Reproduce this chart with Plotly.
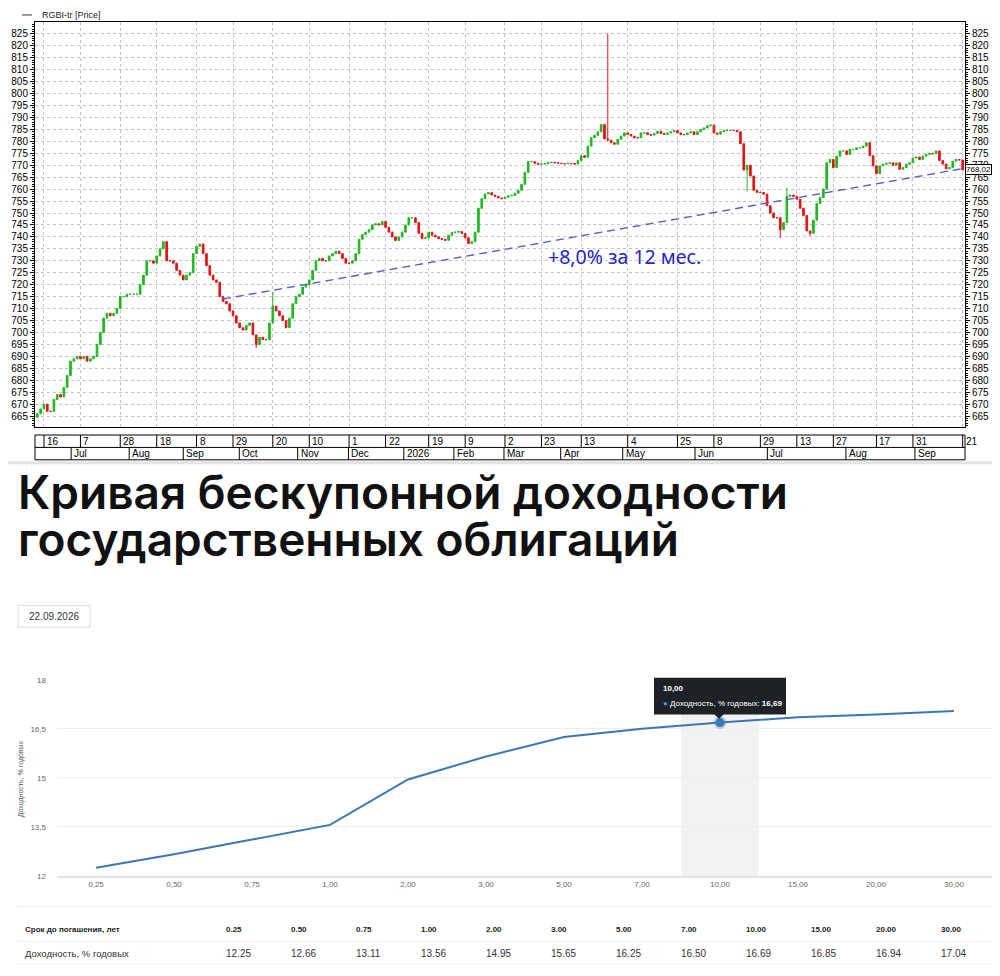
import plotly.graph_objects as go

# ---------------- DATA: RGBI-tr daily candles (close prices) ----------------
closes_a = [666, 668, 670, 667, 667, 672, 674, 673, 677, 682,
            688, 689, 690, 689, 690, 688, 689, 690, 695, 700,
            706, 708, 707, 708, 710, 715, 715, 716, 716, 716,
            716, 720, 724, 730, 730, 729, 732, 735, 738, 730,
            730, 729, 726, 724, 722, 724, 725, 733, 736, 737,
            733, 728, 724, 722, 721, 715, 713, 712, 709, 707,
            704, 702, 701, 703, 704, 699, 695, 698, 697, 697,
            704, 711, 709, 707, 705, 702, 706, 712, 715, 716,
            719, 720, 722, 726, 730, 731, 730, 730, 732, 733,
            734, 733, 731, 729]
closes_b = [729, 730, 733, 739, 741, 742, 743, 745, 745.5, 745,
            746.5, 744, 742, 740, 738.5, 740, 742, 745, 748, 748,
            746, 741.5, 739.3, 739.6, 742, 740.7, 740, 739.3, 739, 738.6,
            740.7, 741.8, 742, 742.3, 741.4, 739.6, 737.2, 738, 742, 752,
            756, 758, 758.5, 757.5, 757, 756.3, 756, 756.6, 757.2, 757.4,
            758.3, 759.5, 762, 767, 771.5, 771.5, 770.8, 770.4, 770.5, 770.7,
            771.2, 771.2, 771, 770.8, 770.7, 770.6, 770.8, 770.7, 770.5, 772,
            774, 773.3, 778, 781.5, 782.5, 784, 787, 781, 780.5, 779.4,
            778.8, 780.8, 782.2, 783.5, 782.9, 782.2, 781.5, 781.5, 783.5, 783.6,
            782.9, 782.6, 783.3, 784.2, 783.3, 782.9, 783.5]
closes_c = [784, 784.5, 783.5, 782.8, 782.8, 783.5, 784, 782.8, 784, 785,
            785.6, 786.5, 786.8, 783.5, 783, 784, 784.6, 784.6, 784.6, 784.5,
            784, 779, 768, 770, 765.5, 759.5, 758.6, 758.6, 757.9, 753,
            750, 748, 748, 743, 746, 757, 757.5, 757, 755.8, 752,
            749, 742.5, 741.5, 747, 754, 756.5, 760, 771, 772.4, 769,
            773.8, 776, 776, 774.5, 776.6, 776.6, 777.3, 777.3, 778, 779.4,
            774, 769.7, 766.5, 769.7, 770.4, 770.8, 771, 770, 771, 768.3,
            769, 770.4, 771, 773, 773.4, 772.4, 773.8, 774.5, 775, 774.8,
            776, 772, 770.5, 768.5, 769, 771.7, 772.4, 772.2, 768.02]
first_open = 664.5
high_overrides = {172: 825.0, 71: 717.0, 226: 760.6}
low_overrides = {66: 693.5, 214: 759.0, 224: 739.6, 233: 740.3}

# date labels of the bar axis (bar index where a label cell starts)
day_tick_idx = [2, 13, 25, 36, 48, 59, 71, 82, 94, 105, 118, 129, 141, 152,
                164, 178, 193, 204, 218, 229, 240, 253, 264, 279]
day_tick_txt = ["16", "7", "28", "18", "8", "29", "20", "10", "1", "22", "19", "9",
                "2", "23", "13", "4", "25", "8", "29", "13", "27", "17", "31", "21"]
month_idx = [10.2, 27.7, 44.0, 60.9, 78.5, 93.8, 110.5, 125.6, 140.7, 157.8,
             176.5, 198.3, 220.1, 243.8, 264.6]
month_txt = ["Jul", "Aug", "Sep", "Oct", "Nov", "Dec", "2026", "Feb", "Mar", "Apr",
             "May", "Jun", "Jul", "Aug", "Sep"]

trend_idx = [56, 279]
trend_val = [714.0, 768.6]
trend_label = "+8,0% за 12 мес."
last_price = 768.02

# ---------------- DATA: zero-coupon yield curve ----------------
maturities = [0.25, 0.5, 0.75, 1, 2, 3, 5, 7, 10, 15, 20, 30]
yields = [12.25, 12.66, 13.11, 13.56, 14.95, 15.65, 16.25, 16.50, 16.69, 16.85, 16.94, 17.04]
y3_ticks = [12, 13.5, 15, 16.5, 18]
hover_i = 8
curve_date = "22.09.2026"

# ---------------- build ----------------
closes = closes_a + closes_b + closes_c
N = len(closes)
idx = list(range(N))
opens = [first_open] + closes[:-1]
highs = [max(o, c) for o, c in zip(opens, closes)]
lows = [min(o, c) for o, c in zip(opens, closes)]
for k, v in high_overrides.items():
    highs[k] = v
for k, v in low_overrides.items():
    lows[k] = v

# page has an 8px body margin: figure occupies screen x 8..1000, y 8..976
OFF = 8
W, H = 1000 - OFF, 976 - OFF
def px(x):
    return (x - OFF) / W
def py(y):
    return 1 - (y - OFF) / H

SANS = "Liberation Sans, Arial"

fig = go.Figure()
fig.add_trace(go.Candlestick(
    x=idx, open=opens, high=highs, low=lows, close=closes,
    increasing=dict(line=dict(color="#1fb81f", width=1), fillcolor="#1fb81f"),
    decreasing=dict(line=dict(color="#e31414", width=1), fillcolor="#e31414"),
    whiskerwidth=0, showlegend=False, hoverinfo="skip",
    xaxis="x", yaxis="y"))
fig.add_trace(go.Scatter(
    x=trend_idx, y=trend_val, mode="lines",
    line=dict(color="#5b5bd6", width=1.4, dash="8px,5px"),
    showlegend=False, hoverinfo="skip", xaxis="x", yaxis="y"))
# invisible helper so the right price axis is drawn
fig.add_trace(go.Scatter(x=[idx[-1]], y=[closes[-1]], mode="markers",
                         marker=dict(opacity=0), showlegend=False, hoverinfo="skip",
                         xaxis="x", yaxis="y2"))

# yield curve
fig.add_trace(go.Scatter(
    x=list(range(len(maturities))), y=yields, mode="lines",
    line=dict(color="#3a78b5", width=2), showlegend=False, hoverinfo="skip",
    xaxis="x2", yaxis="y3"))
fig.add_trace(go.Scatter(
    x=[hover_i], y=[yields[hover_i]], mode="markers",
    marker=dict(size=9, color="#3a78b5", line=dict(color="rgba(58,120,181,0.3)", width=4)),
    showlegend=False, hoverinfo="skip", xaxis="x2", yaxis="y3"))

yr = [660.4, 829.98]
yax = dict(range=yr, dtick=5, tick0=0, ticks="outside", ticklen=4, tickcolor="black",
           minor=dict(dtick=1, ticks="outside", ticklen=2, tickcolor="black", showgrid=False),
           tickfont=dict(family=SANS, size=10, color="black"),
           showline=True, linecolor="black", linewidth=1, zeroline=False,
           fixedrange=True)

fig.update_layout(
    width=W, height=H, margin=dict(l=0, r=0, t=0, b=0),
    paper_bgcolor="white", plot_bgcolor="white",
    xaxis=dict(domain=[px(35), px(965)], anchor="y", range=[-0.7, N - 1 + 0.7],
               tickvals=day_tick_idx, showticklabels=False, ticks="",
               showgrid=True, griddash="dot", gridcolor="#c4c4c4", gridwidth=1,
               showline=True, linecolor="black", linewidth=1, mirror=True,
               zeroline=False, rangeslider=dict(visible=False)),
    yaxis=dict(domain=[py(427), py(18)], anchor="x", side="left",
               showgrid=True, griddash="dot", gridcolor="#c4c4c4", mirror=True, **yax),
    yaxis2=dict(overlaying="y", anchor="x", side="right", showgrid=False, **yax),
    xaxis2=dict(domain=[px(57), px(993)], anchor="y3", range=[-0.5, len(maturities) - 0.5],
                tickvals=list(range(len(maturities))),
                ticktext=[f"{m:.2f}".replace(".", ",") for m in maturities],
                showgrid=False, ticks="", showline=True, linecolor="#e2e2e2", linewidth=2,
                zeroline=False, tickfont=dict(family=SANS, size=8, color="#666")),
    yaxis3=dict(domain=[py(880), py(682)], anchor="x2", range=[12, 18],
                tickvals=y3_ticks, ticktext=[f"{v:g}".replace(".", ",") for v in y3_ticks],
                showgrid=True, gridcolor="#eeeeee", gridwidth=1, showline=False,
                zeroline=False, ticks="", ticklabelstandoff=10,
                tickfont=dict(family=SANS, size=8, color="#666")),
)

shapes = []
annots = []

# separator strip under the price chart
shapes.append(dict(type="line", xref="paper", yref="paper", x0=0, x1=1, y0=py(463), y1=py(463),
                   line=dict(color="#e4e4e4", width=3)))
# legend
shapes.append(dict(type="line", xref="paper", yref="paper", x0=px(22), x1=px(32), y0=py(11), y1=py(11),
                   line=dict(color="#333", width=1)))
annots.append(dict(text="RGBI-tr [Price]", xref="paper", yref="paper", x=px(40), y=py(11),
                   xanchor="left", yanchor="middle", showarrow=False,
                   font=dict(family=SANS, size=9, color="#222")))

# date rows
r1t, r1b, r2b = 435, 447.5, 460
shapes.append(dict(type="rect", xref="paper", yref="paper", x0=px(35), x1=px(965),
                   y0=py(r2b), y1=py(r1t), line=dict(color="black", width=1)))
shapes.append(dict(type="line", xref="paper", yref="paper", x0=px(35), x1=px(965),
                   y0=py(r1b), y1=py(r1b), line=dict(color="black", width=1)))
for i, t in zip(day_tick_idx, day_tick_txt):
    shapes.append(dict(type="line", xref="x", yref="paper", x0=i, x1=i, y0=py(r1b), y1=py(r1t),
                       line=dict(color="black", width=1)))
    annots.append(dict(text=t, xref="x", yref="paper", x=i, y=py((r1t + r1b) / 2),
                       xanchor="left", yanchor="middle", xshift=1, showarrow=False,
                       font=dict(family=SANS, size=10, color="black")))
for i, t in zip(month_idx, month_txt):
    shapes.append(dict(type="line", xref="x", yref="paper", x0=i, x1=i, y0=py(r2b), y1=py(r1b),
                       line=dict(color="black", width=1)))
    annots.append(dict(text=t, xref="x", yref="paper", x=i, y=py((r1b + r2b) / 2),
                       xanchor="left", yanchor="middle", xshift=1, showarrow=False,
                       font=dict(family=SANS, size=10, color="black")))

# trend label & last price box
annots.append(dict(text=trend_label, xref="x", yref="y", x=177, y=731.7, showarrow=False,
                   xanchor="center", yanchor="middle",
                   font=dict(family="Noto Sans, Open Sans", size=19.5, color="#2424c8")))
annots.append(dict(text=f"{last_price:.2f}".replace(".", ","), xref="paper", yref="y",
                   x=px(992), y=last_price, xanchor="right", yanchor="middle", showarrow=False,
                   bgcolor="white", bordercolor="black", borderwidth=1, borderpad=0,
                   font=dict(family=SANS, size=8, color="black")))

# title
annots.append(dict(text="Кривая бескупонной доходности", xref="paper", yref="paper",
                   x=px(16), y=py(493), xanchor="left", yanchor="middle", showarrow=False,
                   font=dict(family="Inter", size=46, color="#111", weight=600)))
annots.append(dict(text="государственных облигаций", xref="paper", yref="paper",
                   x=px(16), y=py(540), xanchor="left", yanchor="middle", showarrow=False,
                   font=dict(family="Inter", size=46, color="#111", weight=600)))
# date box
shapes.append(dict(type="rect", xref="paper", yref="paper", x0=px(18), x1=px(90),
                   y0=py(629), y1=py(607), line=dict(color="#dcdcdc", width=1), fillcolor="white"))
annots.append(dict(text=curve_date, xref="paper", yref="paper", x=px(54), y=py(618),
                   xanchor="center", yanchor="middle", showarrow=False,
                   font=dict(family=SANS, size=10, color="#333")))

# y-axis title of curve
annots.append(dict(text="Доходность, % годовых", xref="paper", yref="paper", x=px(20.5), y=py(782),
                   textangle=-90, xanchor="center", yanchor="middle", showarrow=False,
                   font=dict(family=SANS, size=7, color="#555")))

# hover band + tooltip
shapes.append(dict(type="rect", xref="x2", yref="y3", x0=hover_i - 0.5, x1=hover_i + 0.5,
                   y0=12, y1=18, fillcolor="#f2f2f2", line=dict(width=0), layer="below"))
shapes.append(dict(type="rect", xref="paper", yref="paper", x0=px(654), x1=px(786),
                   y0=py(717), y1=py(680), fillcolor="#1e2227", line=dict(width=0)))
shapes.append(dict(type="path", xref="paper", yref="paper",
                   path=f"M {px(714)},{py(716.5)} L {px(724)},{py(716.5)} L {px(719)},{py(721.5)} Z",
                   fillcolor="#1e2227", line=dict(width=0)))
annots.append(dict(text=f"<b>{maturities[hover_i]:.2f}</b>".replace(".", ","), xref="paper", yref="paper",
                   x=px(661), y=py(690.5), xanchor="left", yanchor="middle", showarrow=False,
                   font=dict(family=SANS, size=8, color="white")))
annots.append(dict(text='<span style="color:#4a8fd6">●</span> Доходность, % годовых: <b>'
                        + f"{yields[hover_i]:.2f}".replace(".", ",") + "</b>",
                   xref="paper", yref="paper", x=px(661), y=py(705.5), xanchor="left", yanchor="middle",
                   showarrow=False, font=dict(family=SANS, size=8, color="white")))

# table
for yl in (911, 946, 969):
    shapes.append(dict(type="line", xref="paper", yref="paper", x0=px(18), x1=1, y0=py(yl), y1=py(yl),
                       line=dict(color="#efefef", width=1)))
annots.append(dict(text="<b>Срок до погашения, лет</b>", xref="paper", yref="paper", x=px(23), y=py(934),
                   xanchor="left", yanchor="middle", showarrow=False,
                   font=dict(family=SANS, size=8, color="#222")))
annots.append(dict(text="Доходность, % годовых", xref="paper", yref="paper", x=px(23), y=py(958),
                   xanchor="left", yanchor="middle", showarrow=False,
                   font=dict(family=SANS, size=9.5, color="#333")))
for k, (m, v) in enumerate(zip(maturities, yields)):
    xcol = px(224 + 65 * k)
    annots.append(dict(text=f"<b>{m:.2f}</b>", xref="paper", yref="paper", x=xcol, y=py(934),
                       xanchor="left", yanchor="middle", showarrow=False,
                       font=dict(family=SANS, size=8, color="#222")))
    annots.append(dict(text=f"{v:.2f}", xref="paper", yref="paper", x=xcol, y=py(958),
                       xanchor="left", yanchor="middle", showarrow=False,
                       font=dict(family=SANS, size=10, color="#333")))

fig.update_layout(shapes=shapes, annotations=annots)
fig.write_html("out.html")
